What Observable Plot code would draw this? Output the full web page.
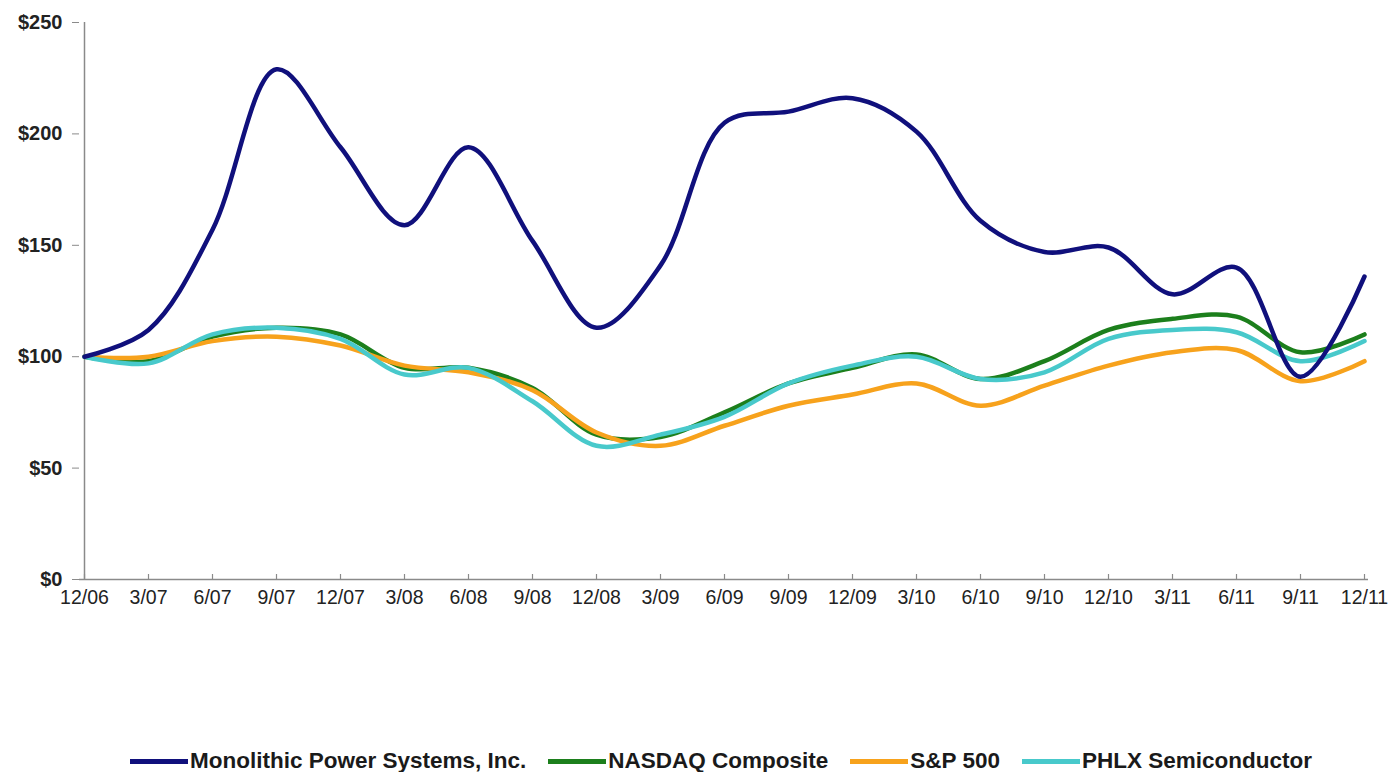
<!DOCTYPE html>
<html>
<head>
<meta charset="utf-8">
<script src="https://cdn.jsdelivr.net/npm/d3@7"></script>
<script src="https://cdn.jsdelivr.net/npm/@observablehq/plot@0.6"></script>
<style>
  html, body { margin: 0; padding: 0; background: #fff; }
  body { width: 1396px; height: 772px; position: relative; overflow: hidden; font-family: "Liberation Sans", Arial, sans-serif; }
  #chart { position: absolute; left: 0; top: 0; }
  #legend { position: absolute; left: 130px; top: 747px; display: flex; align-items: center; gap: 22px; font-weight: bold; font-size: 22.5px; color: #1a1a1a; white-space: nowrap; line-height: 28px; }
  #legend .item { display: flex; align-items: center; gap: 2px; }
  #legend .sw { width: 58px; height: 5px; display: inline-block; }
</style>
</head>
<body>
<div id="chart"></div>
<div id="legend"></div>
<script>
const quarters = ["12/06","3/07","6/07","9/07","12/07","3/08","6/08","9/08","12/08","3/09","6/09","9/09","12/09","3/10","6/10","9/10","12/10","3/11","6/11","9/11","12/11"];
const seriesNames = ["Monolithic Power Systems, Inc.", "NASDAQ Composite", "S&P 500", "PHLX Semiconductor"];
const seriesColors = ["#10107c", "#1c7f1c", "#f7a21c", "#48c9cb"];
const mps    = [100, 112, 157, 229, 194, 159, 194, 152, 113, 141, 205, 210, 216, 201, 161, 147, 149, 128, 140, 91, 136];
const nasdaq = [100,  98, 109, 113, 110,  95,  95,  86,  65,  64,  75,  88,  95, 101,  90,  98, 112, 117, 118, 102, 110];
const sp500  = [100, 100, 107, 109, 105,  96,  93,  85,  66,  60,  69,  78,  83,  88,  78,  87,  96, 102, 103,  89,  98];
const phlx   = [100,  97, 110, 113, 108,  92,  95,  80,  60,  65,  73,  88,  96, 100,  90,  93, 108, 112, 111,  98, 107];
const yTicks = [0, 50, 100, 150, 200, 250];

const allSeries = [mps, nasdaq, sp500, phlx];
const rows = [];
allSeries.forEach((vals, si) => vals.forEach((v, i) => rows.push({q: quarters[i], value: v, series: seriesNames[si]})));
const drawOrder = [1, 2, 3, 0];

const axisGray = "#8a8a8a";
const chart = Plot.plot({
  width: 1396,
  height: 620,
  marginLeft: 79,
  marginRight: 28,
  marginTop: 22,
  marginBottom: 41,
  style: { fontFamily: "'Liberation Sans', Arial, sans-serif", background: "#fff" },
  x: { type: "point", domain: quarters, padding: 0, label: null },
  y: { domain: [0, 250], label: null },
  color: { domain: seriesNames, range: seriesColors },
  marks: [
    Plot.ruleY([0], { stroke: axisGray, strokeWidth: 1.5 }),
    Plot.ruleX([quarters[0]], { stroke: axisGray, strokeWidth: 1.5 }),
    Plot.tickX(quarters, { x: d => d, insetTop: 552, stroke: axisGray, strokeWidth: 1.2 }),
    Plot.axisX({ tickSize: 0, tickPadding: 11, fontSize: 19.5, fill: "#222", label: null }),
    Plot.axisY({ ticks: yTicks, tickSize: 7, tickPadding: 10, tickFormat: d => "$" + d, fontSize: 20, fontWeight: "bold", fill: "#222", stroke: axisGray, label: null }),
    ...drawOrder.map(si => Plot.line(rows.filter(r => r.series === seriesNames[si]), {
      x: "q", y: "value", stroke: "series", strokeWidth: 4.5, curve: "catmull-rom"
    }))
  ]
});
document.getElementById("chart").appendChild(chart);

const legend = document.getElementById("legend");
seriesNames.forEach((name, i) => {
  const item = document.createElement("div");
  item.className = "item";
  const sw = document.createElement("span");
  sw.className = "sw";
  sw.style.background = seriesColors[i];
  const t = document.createElement("span");
  t.textContent = name;
  item.appendChild(sw);
  item.appendChild(t);
  legend.appendChild(item);
});
</script>
</body>
</html>
